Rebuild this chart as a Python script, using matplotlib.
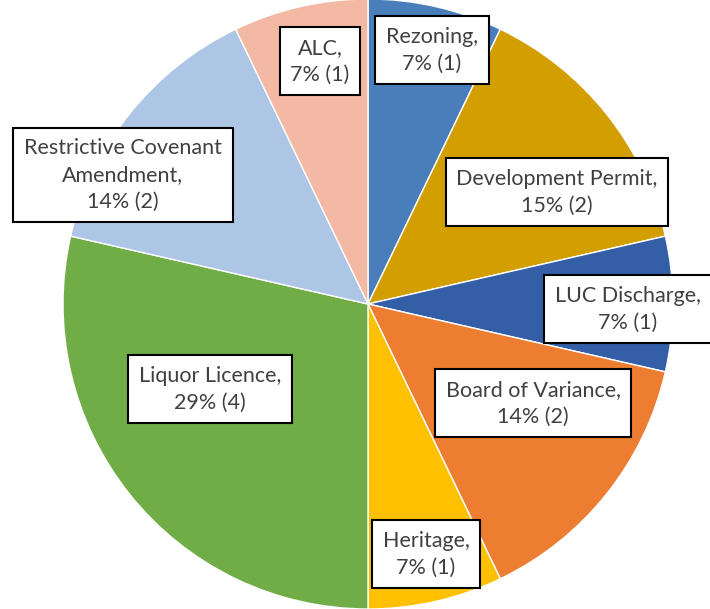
import matplotlib.pyplot as plt

# data (clockwise from 12 o'clock)
categories = ["Rezoning", "Development Permit", "LUC Discharge", "Board of Variance",
              "Heritage", "Liquor Licence", "Restrictive Covenant\nAmendment", "ALC"]
counts = [1, 2, 1, 2, 1, 4, 2, 1]
pct_labels = ["7%", "15%", "7%", "14%", "7%", "29%", "14%", "7%"]
colors = ["#4A7EBB", "#D39E00", "#345EA6", "#ED7D31", "#FFC000", "#70AD47", "#AEC6E6", "#F4B9A4"]

# label box centres (pixel coords, y from top)
label_pos = [(432, 50), (557, 192), (628, 309), (533, 403),
             (426, 554), (210, 389), (123, 175), (320, 61)]

W, H = 710, 609
fig = plt.figure(figsize=(W / 100, H / 100), dpi=100)
ax = fig.add_axes([0, 0, 1, 1])
ax.set_xlim(0, W)
ax.set_ylim(0, H)
ax.set_aspect("equal")
ax.axis("off")

ax.pie(counts, colors=colors, startangle=90, counterclock=False,
       center=(368, H - 304), radius=305,
       wedgeprops=dict(edgecolor="white", linewidth=1))
ax.set_xlim(0, W)
ax.set_ylim(0, H)

for cat, n, p, (x, y) in zip(categories, counts, pct_labels, label_pos):
    ax.text(x, H - y, f"{cat},\n{p} ({n})", ha="center", va="center",
            fontsize=15.5, family=["Lato", "DejaVu Sans"], color="#404040",
            linespacing=1.42,
            bbox=dict(boxstyle="square,pad=0.5", fc="white", ec="black", lw=1.5))

fig.savefig("out.png", dpi=100)
